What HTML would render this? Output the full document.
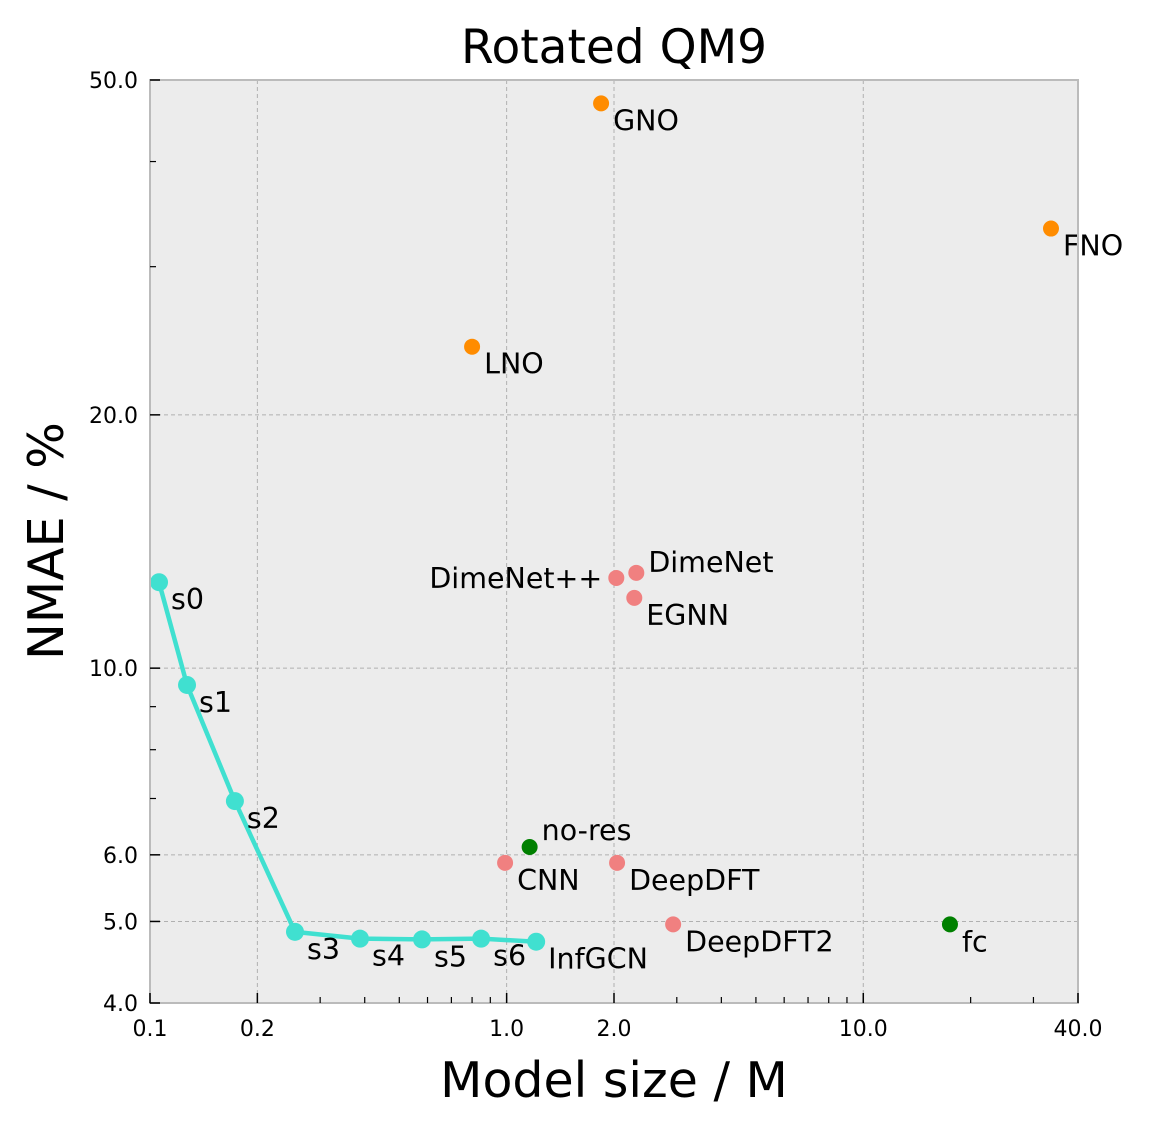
<!DOCTYPE html>
<html><head><meta charset="utf-8"><style>
body{margin:0;background:#fff}
svg{display:block}
text{font-family:"DejaVu Sans","Liberation Sans",sans-serif;fill:#000}
</style></head><body>
<svg id="chart" width="1151" height="1126" viewBox="0 0 1151 1126" xmlns="http://www.w3.org/2000/svg">
<rect x="150" y="80" width="928" height="923" fill="#ececec"/>
<g id="grid"></g>
<g id="series"></g>
<rect x="150" y="80" width="928" height="923" fill="none" stroke="#bbb" stroke-width="2"/>
<g id="ticks"></g>
<text x="614" y="63" font-size="47" text-anchor="middle">Rotated QM9</text>
<text x="614" y="1097" font-size="49" text-anchor="middle">Model size / M</text>
<text transform="translate(63,541) rotate(-90)" font-size="49" text-anchor="middle">NMAE / %</text>
</svg>
<script>
const xMajor=[0.1,0.2,1,2,10,40];
const xMajorLabels=["0.1","0.2","1.0","2.0","10.0","40.0"];
const xMinor=[0.3,0.4,0.5,0.6,0.7,0.8,0.9,3,4,5,6,7,8,9,20,30];
const yMajor=[4,5,6,10,20,50];
const yMajorLabels=["4.0","5.0","6.0","10.0","20.0","50.0"];
const yMinor=[7,8,9,30,40];
const sNames=["s0","s1","s2","s3","s4","s5","s6","InfGCN"];
const sX=[0.106,0.127,0.173,0.255,0.388,0.579,0.848,1.21];
const sY=[12.65,9.55,6.95,4.86,4.77,4.76,4.77,4.73];
const oNames=["GNO","FNO","LNO"];
const oX=[1.84,33.6,0.80];
const oY=[46.9,33.3,24.1];
const pNames=["DimeNet++","DimeNet","EGNN","CNN","DeepDFT","DeepDFT2"];
const pX=[2.03,2.31,2.28,0.99,2.04,2.93];
const pY=[12.8,12.98,12.12,5.87,5.87,4.96];
const gNames=["no-res","fc"];
const gX=[1.16,17.5];
const gY=[6.13,4.96];

const NS="http://www.w3.org/2000/svg";
const L=150,R=1078,T=80,B=1003;
const xs=v=>L+(Math.log10(v)-Math.log10(0.1))/(Math.log10(40)-Math.log10(0.1))*(R-L);
const ys=v=>B-(Math.log10(v)-Math.log10(4))/(Math.log10(50)-Math.log10(4))*(B-T);
function mk(tag,attrs,parent){const e=document.createElementNS(NS,tag);for(const k in attrs)e.setAttribute(k,attrs[k]);parent.appendChild(e);return e;}
const grid=document.getElementById('grid'),ticks=document.getElementById('ticks'),ser=document.getElementById('series');
xMajor.forEach((v,i)=>{
  const x=xs(v);
  const g=mk('line',{x1:x,x2:x,y1:T,y2:B,stroke:'#b0b0b0','stroke-width':1,'stroke-dasharray':'4,3'},grid);
  
  
  const t=mk('line',{x1:x,x2:x,y1:B,y2:B-10,stroke:'#000','stroke-width':1.5},ticks);
  
  
  const lb=mk('text',{x:x,y:B+33,'font-size':22,'text-anchor':'middle'},ticks);
  lb.textContent=xMajorLabels[i];
  
  
});
xMinor.forEach(v=>{
  const x=xs(v);
  const t=mk('line',{x1:x,x2:x,y1:B,y2:B-6,stroke:'#000','stroke-width':1.2},ticks);
  
  
});
yMajor.forEach((v,i)=>{
  const y=ys(v);
  const g=mk('line',{x1:L,x2:R,y1:y,y2:y,stroke:'#b0b0b0','stroke-width':1,'stroke-dasharray':'4,3'},grid);
  
  
  const t=mk('line',{x1:L,x2:L+10,y1:y,y2:y,stroke:'#000','stroke-width':1.5},ticks);
  
  
  const lb=mk('text',{x:L-12,y:y+8,'font-size':22,'text-anchor':'end'},ticks);
  lb.textContent=yMajorLabels[i];
  
  
});
yMinor.forEach(v=>{
  const y=ys(v);
  const t=mk('line',{x1:L,x2:L+6,y1:y,y2:y,stroke:'#000','stroke-width':1.2},ticks);
  
  
});
const pl=mk('polyline',{points:sX.map((v,i)=>xs(v)+','+ys(sY[i])).join(' '),fill:'none',stroke:'#40e0d0','stroke-width':4.5,'stroke-linejoin':'round'},ser);


function pts(names,X,Y,color,r,nameP,offs){
  names.forEach((n,i)=>{
    const x=xs(X[i]),y=ys(Y[i]);
    const c=mk('circle',{cx:x,cy:y,r:r,fill:color},ser);
    
    
    const o=(offs&&offs[n])||[12,27,'start'];
    const t=mk('text',{x:x+o[0],y:y+o[1],'font-size':28.5,'text-anchor':o[2]},ser);
    t.textContent=n;
    
    
  });
}
pts(sNames,sX,sY,'#40e0d0',9,'infgcn',{});
pts(oNames,oX,oY,'#ff8c00',8,'operator',{});
pts(pNames,pX,pY,'#f08080',8,'baseline',{"DimeNet++":[-14,10,'end'],"DimeNet":[12,-1,'start']});
pts(gNames,gX,gY,'#008000',8,'ablation',{"no-res":[12,-7,'start']});
</script>
</body></html>
